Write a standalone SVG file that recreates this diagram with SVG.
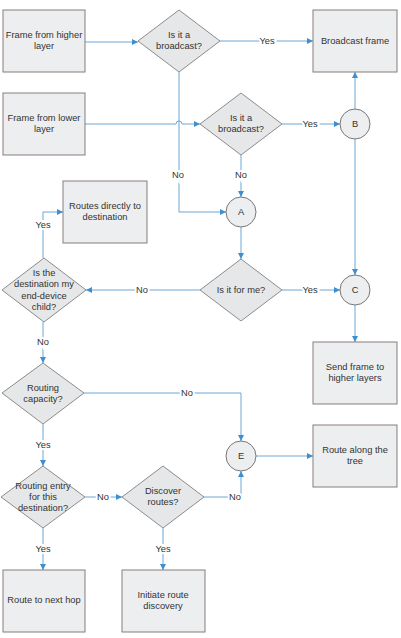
<svg xmlns="http://www.w3.org/2000/svg" width="401" height="638" viewBox="0 0 401 638">
<style>
.box{fill:#eceef0;stroke:#877c7c;stroke-width:1}
.dia{fill:#e6e7e8;stroke:#8c8c8c;stroke-width:1}
.cir{fill:#eceef0;stroke:#777;stroke-width:1}
text{font-family:"Liberation Sans",Arial,sans-serif;font-size:9.3px;fill:#333;text-anchor:middle;dominant-baseline:central}
.lbl{paint-order:stroke;stroke:#fff;stroke-width:4px}
.ln{fill:none;stroke:#6aa6d6;stroke-width:1}
</style>
<defs>
<marker id="ah" viewBox="0 0 10 10" refX="10" refY="5" markerWidth="6" markerHeight="6" orient="auto" markerUnits="userSpaceOnUse">
<path d="M0,0 L10,5 L0,10 z" fill="#3d8fd1"/>
</marker>
</defs>
<rect width="401" height="638" fill="#fff"/>
<g id="connectors">
<path class="ln" d="M85,42 H138" marker-end="url(#ah)"/>
<path class="ln" d="M220,41 H313" marker-end="url(#ah)"/>
<path class="ln" d="M85,124 H176 A3,3 0 0 1 182,124 H200" marker-end="url(#ah)"/>
<path class="ln" d="M282,124 H340" marker-end="url(#ah)"/>
<path class="ln" d="M355,109 V72" marker-end="url(#ah)"/>
<path class="ln" d="M355,139 V275" marker-end="url(#ah)"/>
<path class="ln" d="M179,72 V212 H226" marker-end="url(#ah)"/>
<path class="ln" d="M241,155 V197" marker-end="url(#ah)"/>
<path class="ln" d="M241,227 V259" marker-end="url(#ah)"/>
<path class="ln" d="M282,290 H340" marker-end="url(#ah)"/>
<path class="ln" d="M355,305 V342" marker-end="url(#ah)"/>
<path class="ln" d="M200,290 H86" marker-end="url(#ah)"/>
<path class="ln" d="M43,258 V212 H63" marker-end="url(#ah)"/>
<path class="ln" d="M43,322 V363" marker-end="url(#ah)"/>
<path class="ln" d="M84,393 H241 V441" marker-end="url(#ah)"/>
<path class="ln" d="M256,456 H313" marker-end="url(#ah)"/>
<path class="ln" d="M43,424 V466" marker-end="url(#ah)"/>
<path class="ln" d="M85,497 H122" marker-end="url(#ah)"/>
<path class="ln" d="M204,497 H241 V471" marker-end="url(#ah)"/>
<path class="ln" d="M43,528 V570" marker-end="url(#ah)"/>
<path class="ln" d="M163,528 V570" marker-end="url(#ah)"/>
<text class="lbl" x="267" y="41">Yes</text>
<text class="lbl" x="310" y="124">Yes</text>
<text class="lbl" x="178" y="175">No</text>
<text class="lbl" x="241" y="175">No</text>
<text class="lbl" x="310" y="290">Yes</text>
<text class="lbl" x="142" y="290">No</text>
<text class="lbl" x="43" y="225">Yes</text>
<text class="lbl" x="43" y="342">No</text>
<text class="lbl" x="187" y="393">No</text>
<text class="lbl" x="43" y="445">Yes</text>
<text class="lbl" x="103" y="497">No</text>
<text class="lbl" x="235" y="497">No</text>
<text class="lbl" x="43" y="549">Yes</text>
<text class="lbl" x="163" y="549">Yes</text>
</g>
<g id="frame-higher"><rect class="box" x="3" y="10" width="82" height="62"/><text x="44" y="35">Frame from higher</text><text x="44" y="46">layer</text></g>
<g id="bcast1"><path class="dia" d="M179,10 L220,41 L179,72 L138,41 z"/><text x="179" y="35">Is it a</text><text x="179" y="46">broadcast?</text></g>
<g id="bcast-frame"><rect class="box" x="313" y="10" width="84" height="62"/><text x="355" y="41">Broadcast frame</text></g>
<g id="frame-lower"><rect class="box" x="3" y="93" width="82" height="62"/><text x="44" y="118">Frame from lower</text><text x="44" y="129">layer</text></g>
<g id="bcast2"><path class="dia" d="M241,93 L282,124 L241,155 L200,124 z"/><text x="241" y="118">Is it a</text><text x="241" y="129">broadcast?</text></g>
<g id="B"><circle class="cir" cx="355" cy="124" r="15"/><text x="355" y="124">B</text></g>
<g id="A"><circle class="cir" cx="241" cy="212" r="15"/><text x="241" y="212">A</text></g>
<g id="routes-direct"><rect class="box" x="63" y="181" width="84" height="62"/><text x="105" y="206">Routes directly to</text><text x="105" y="217">destination</text></g>
<g id="for-me"><path class="dia" d="M241,259 L282,290 L241,321 L200,290 z"/><text x="241" y="290">Is it for me?</text></g>
<g id="C"><circle class="cir" cx="355" cy="290" r="15"/><text x="355" y="290">C</text></g>
<g id="end-device"><path class="dia" d="M44,258 L86,290 L44,322 L2,290 z"/><text x="44" y="273">Is the</text><text x="44" y="284">destination my</text><text x="44" y="296">end-device</text><text x="44" y="307">child?</text></g>
<g id="send-higher"><rect class="box" x="313" y="342" width="84" height="62"/><text x="355" y="367">Send frame to</text><text x="355" y="378">higher layers</text></g>
<g id="routing-capacity"><path class="dia" d="M43,363 L84,393 L43,424 L2,393 z"/><text x="43" y="388">Routing</text><text x="43" y="399">capacity?</text></g>
<g id="E"><circle class="cir" cx="241" cy="456" r="15"/><text x="241" y="456">E</text></g>
<g id="route-tree"><rect class="box" x="313" y="425" width="84" height="62"/><text x="355" y="450">Route along the</text><text x="355" y="461">tree</text></g>
<g id="routing-entry"><path class="dia" d="M43,466 L85,497 L43,528 L1,497 z"/><text x="43" y="486">Routing entry</text><text x="43" y="497">for this</text><text x="43" y="508">destination?</text></g>
<g id="discover"><path class="dia" d="M163,466 L204,497 L163,528 L122,497 z"/><text x="163" y="491">Discover</text><text x="163" y="502">routes?</text></g>
<g id="next-hop"><rect class="box" x="3" y="570" width="82" height="62"/><text x="44" y="600">Route to next hop</text></g>
<g id="initiate"><rect class="box" x="122" y="570" width="83" height="62"/><text x="163" y="595">Initiate route</text><text x="163" y="606">discovery</text></g>
</svg>
